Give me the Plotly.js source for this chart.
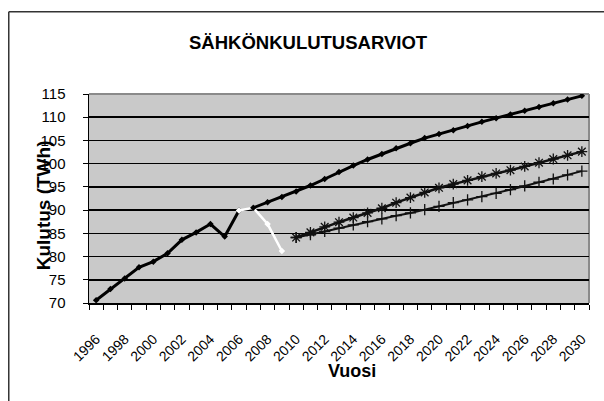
<!DOCTYPE html>
<html>
<head>
<meta charset="utf-8">
<script src="https://cdn.plot.ly/plotly-3.0.1.min.js"></script>
<style>html,body{margin:0;padding:0;background:#fff;}#chart{width:604px;height:401px;}</style>
</head>
<body>
<div id="chart"></div>
<script>
// ---- data ----
const histYears = [1996,1997,1998,1999,2000,2001,2002,2003,2004,2005,2006];
const histValues = [70.6,73.0,75.3,77.7,78.9,80.7,83.6,85.2,87.0,84.3,89.9];

const actualYears = [2006,2007,2008,2009];
const actualValues = [89.9,90.5,87.0,81.2];

const projYears = [2007,2008,2009,2010,2011,2012,2013,2014,2015,2016,2017,2018,2019,2020,2021,2022,2023,2024,2025,2026,2027,2028,2029,2030];
const projValues = [90.5,91.7,92.8,94.0,95.3,96.7,98.2,99.6,100.9,102.1,103.3,104.4,105.5,106.4,107.2,108.1,109.0,109.8,110.6,111.4,112.2,113.0,113.8,114.6];

const lowYears = [2010,2011,2012,2013,2014,2015,2016,2017,2018,2019,2020,2021,2022,2023,2024,2025,2026,2027,2028,2029,2030];
const starValues = [84.1,85.2,86.4,87.4,88.4,89.4,90.4,91.6,92.7,93.8,94.8,95.6,96.4,97.2,97.9,98.6,99.4,100.2,101.0,101.8,102.6];
const plusValues = [84.1,84.7,85.4,86.1,86.8,87.5,88.1,88.8,89.4,90.1,90.8,91.6,92.2,92.9,93.6,94.4,95.2,96.0,96.7,97.6,98.4];

const tickYears = [1996,1998,2000,2002,2004,2006,2008,2010,2012,2014,2016,2018,2020,2022,2024,2026,2028,2030];
const yTicks = [70,75,80,85,90,95,100,105,110,115];

const titleText = 'SÄHKÖNKULUTUSARVIOT';
const xTitle = 'Vuosi';
const yTitle = 'Kulutus (TWh)';

// ---- chart ----
const allYears = [];
for (let y = histYears[0]; y <= projYears[projYears.length-1]; y++) allYears.push(y);
const boundaries = allYears.map(y => y - 0.5).concat([allYears[allYears.length-1] + 0.5]);

const FONT = '"Liberation Sans", Arial, sans-serif';

const traces = [
  {x: histYears, y: histValues, mode: 'lines+markers', line: {color: '#000', width: 3},
   marker: {symbol: 'diamond', size: 5, color: '#000'}, showlegend: false},
  {x: actualYears, y: actualValues, mode: 'lines+markers', line: {color: '#fff', width: 2.5},
   marker: {symbol: 'diamond', size: 5, color: '#fff'}, showlegend: false},
  {x: projYears, y: projValues, mode: 'lines+markers', line: {color: '#000', width: 3},
   marker: {symbol: 'diamond', size: 5, color: '#000'}, showlegend: false},
  {x: lowYears, y: starValues, mode: 'lines+markers', line: {color: '#111', width: 2.5},
   marker: {symbol: 'asterisk-open', size: 9, color: '#111', line: {color: '#111', width: 1.3}}, showlegend: false},
  {x: lowYears, y: plusValues, mode: 'lines+markers', line: {color: '#111', width: 2},
   marker: {symbol: 'cross-thin-open', size: 8, color: '#111', line: {color: '#111', width: 1.3}}, showlegend: false}
];

const L = 89.2, R = 589, T = 93.5, B = 303, W = 604, H = 401;
const pw = R - L, ph = B - T;
const px = v => (v - L) / pw;
const py = v => (B - v) / ph;

const layout = {
  width: W, height: H,
  margin: {l: L, r: W - R, t: T, b: H - B, pad: 0},
  paper_bgcolor: '#fff',
  plot_bgcolor: '#c9c9c9',
  font: {family: FONT, color: '#000'},
  showlegend: false,
  xaxis: {
    type: 'linear',
    range: [boundaries[0], boundaries[boundaries.length-1]],
    tickmode: 'array', tickvals: tickYears, ticktext: tickYears.map(String),
    tickangle: -45, ticks: '', ticklen: 0,
    ticklabelstandoff: 21,
    tickfont: {size: 14, family: FONT, color: '#000'},
    showgrid: false, zeroline: false,
    showline: true, linecolor: '#000', linewidth: 1.5,
    minor: {tickmode: 'array', tickvals: boundaries, ticks: 'outside', ticklen: 5, tickwidth: 1, tickcolor: '#000', showgrid: false}
  },
  yaxis: {
    range: [yTicks[0], yTicks[yTicks.length-1]],
    tickmode: 'array', tickvals: yTicks, ticktext: yTicks.map(String),
    ticks: 'outside', ticklen: 5, tickwidth: 1, tickcolor: '#000',
    ticklabelstandoff: 14,
    tickfont: {size: 15, family: FONT, color: '#000'},
    showgrid: true, gridcolor: '#000', gridwidth: 1.5,
    zeroline: false,
    showline: true, linecolor: '#000', linewidth: 1.5
  },
  shapes: [
    {type: 'line', xref: 'paper', yref: 'paper', x0: 0, x1: 1, y0: 1, y1: 1, line: {color: '#8a8a8a', width: 2}, layer: 'between'},
    {type: 'line', xref: 'paper', yref: 'paper', x0: 1, x1: 1, y0: 0, y1: 1, line: {color: '#8a8a8a', width: 2}, layer: 'between'},
    {type: 'line', xref: 'paper', yref: 'paper', x0: px(9), x1: px(9), y0: py(H + 5), y1: py(11), line: {color: '#333', width: 1.5}, layer: 'above'},
    {type: 'line', xref: 'paper', yref: 'paper', x0: px(9), x1: px(W + 5), y0: py(11), y1: py(11), line: {color: '#333', width: 1.5}, layer: 'above'}
  ],
  annotations: [
    {text: titleText, xref: 'paper', yref: 'paper', x: px(308.5), y: py(41.5), xanchor: 'center', yanchor: 'middle', showarrow: false,
     font: {size: 18.5, family: FONT, color: '#000', weight: 'bold'}},
    {text: xTitle, xref: 'paper', yref: 'paper', x: px(352), y: py(371), xanchor: 'center', yanchor: 'middle', showarrow: false,
     font: {size: 18, family: FONT, color: '#000', weight: 'bold'}},
    {text: yTitle, xref: 'paper', yref: 'paper', x: px(43.3), y: py(205), xanchor: 'center', yanchor: 'middle', showarrow: false, textangle: -90,
     font: {size: 19, family: FONT, color: '#000', weight: 'bold'}}
  ]
};

Plotly.newPlot('chart', traces, layout, {displayModeBar: false, staticPlot: true});
</script>
</body>
</html>
